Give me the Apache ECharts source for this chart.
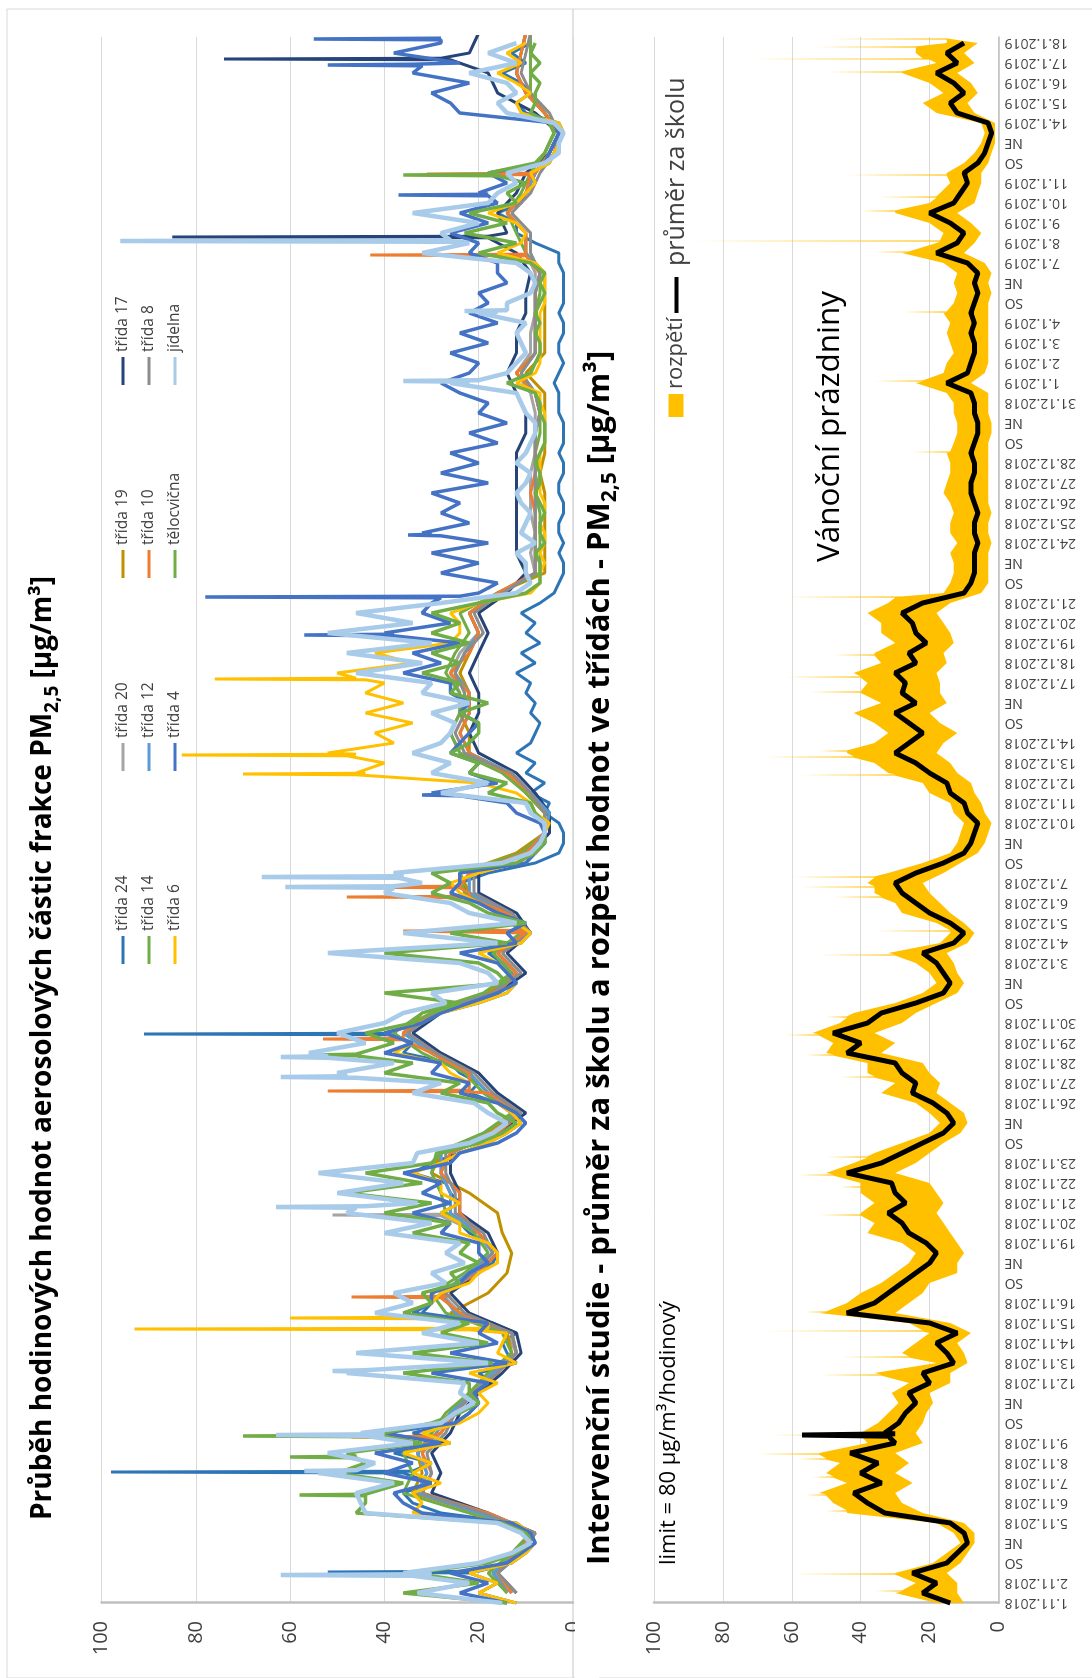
<!DOCTYPE html>
<html>
<head>
<meta charset="utf-8">
<script src="https://cdn.jsdelivr.net/npm/echarts@6/dist/echarts.min.js"></script>
<style>
html,body{margin:0;padding:0;background:#fff;}
body{width:1092px;height:1678px;overflow:hidden;position:relative;}
#chart{position:absolute;left:0;top:0;width:1678px;height:1092px;transform-origin:0 0;transform:translateY(1678px) rotate(-90deg);background:#fff;}
</style>
</head>
<body>
<div id="chart"></div>
<script>
// ---- tick labels (one per day, 1.11.2018 .. 18.1.2019) ----
const dayLabels = ['1.11.2018','2.11.2018','SO','NE','5.11.2018','6.11.2018','7.11.2018','8.11.2018','9.11.2018','SO','NE','12.11.2018','13.11.2018','14.11.2018','15.11.2018','16.11.2018','SO','NE','19.11.2018','20.11.2018','21.11.2018','22.11.2018','23.11.2018','SO','NE','26.11.2018','27.11.2018','28.11.2018','29.11.2018','30.11.2018','SO','NE','3.12.2018','4.12.2018','5.12.2018','6.12.2018','7.12.2018','SO','NE','10.12.2018','11.12.2018','12.12.2018','13.12.2018','14.12.2018','SO','NE','17.12.2018','18.12.2018','19.12.2018','20.12.2018','21.12.2018','SO','NE','24.12.2018','25.12.2018','26.12.2018','27.12.2018','28.12.2018','SO','NE','31.12.2018','1.1.2019','2.1.2019','3.1.2019','4.1.2019','SO','NE','7.1.2019','8.1.2019','9.1.2019','10.1.2019','11.1.2019','SO','NE','14.1.2019','15.1.2019','16.1.2019','17.1.2019','18.1.2019'];

// ---- right panel: school average and range (half-day samples) ----
const avg = [14,22,18,25,15,12,9,10,14,33,38,42,34,40,35,43,30,33,29,27,
24,26,20,22,13,15,18,12,20,44,36,32,28,24,20,18,21,26,28,32,
27,30,31,44,34,28,22,16,13,15,19,25,24,28,30,44,40,48,38,34,
24,16,14,16,18,22,13,10,14,20,24,28,30,24,16,10,8,7,6,9,
10,14,15,20,24,30,26,22,26,30,24,28,27,30,24,26,21,24,25,28,
22,10,8,7,7,7,6,7,7,6,7,8,8,7,7,8,7,6,6,7,
7,8,15,9,8,7,7,8,7,8,7,6,7,6,9,18,12,10,14,20,
13,11,9,10,6,4,3,2,3,12,14,10,13,18,12,15,10];
const avgSpikes = [[8.4,32,57,30]];
const rangeLo = [10,12,12,15,11,9,7,7,10,22,28,30,25,30,26,30,22,24,22,21,
19,20,14,14,9,10,12,8,14,30,26,22,20,12,12,10,12,14,16,18,
16,18,20,30,24,20,16,11,9,10,14,18,17,20,22,34,30,36,28,24,
18,12,10,12,13,15,9,7,10,14,17,20,22,16,11,6,4,3,2,4,
5,7,8,12,14,18,16,12,17,20,15,17,17,18,15,16,13,14,16,18,
14,5,3,3,3,3,2,3,3,2,3,3,3,3,3,3,3,2,2,3,
3,3,8,4,3,3,3,3,3,3,3,2,3,2,4,10,7,5,8,12,
7,6,5,5,3,2,1,1,1,7,9,6,8,12,7,10,6];
const rangeHi = [18,30,24,30,19,15,11,13,18,44,48,52,44,50,46,52,38,40,35,32,
29,31,26,36,18,28,24,20,26,52,44,40,34,30,26,24,28,38,36,40,
36,40,40,50,42,36,28,20,17,20,24,34,30,38,38,50,48,54,46,42,
30,22,18,20,24,32,17,14,18,28,30,36,38,32,22,14,12,11,10,13,
14,20,22,32,36,44,36,32,36,42,34,40,38,42,34,36,30,34,34,38,
32,16,14,13,13,14,12,14,14,13,14,16,15,14,14,15,13,12,12,13,
13,15,24,16,15,13,14,15,14,16,13,12,13,12,16,28,18,16,20,30,
20,17,14,15,10,7,5,4,5,18,22,16,20,28,18,24,15];
const rangeHiSpikes = [[0.6,28,36,28],[1.45,30,60,30],[4.6,44,50,44],[5.4,50,56,50],[6.3,48,54,48],[7.2,50,58,50],[7.45,52,70,52],[8.4,40,66,40],
[11.4,34,52,34],[12.3,26,46,26],[13.6,22,68,22],[14.55,50,56,50],[19.4,40,52,40],[20.8,40,46,40],[21.4,48,58,48],[22.3,38,50,38],
[26.3,36,46,36],[27.4,48,56,48],[28.4,52,62,52],[29.3,44,50,44],[32.4,30,52,30],[33.6,14,36,14],[35.3,34,48,34],[35.8,36,58,36],[36.3,36,60,36],
[41.4,30,58,30],[42.3,42,68,42],[42.6,44,52,44],[45.55,40,55,40],[46.3,40,62,40],[47.4,36,48,36],[50.3,30,62,28],
[57.55,14,25,14],[61.1,22,36,22],[64.55,15,28,15],[67.55,26,36,26],[68.1,17,90,17],[69.6,30,40,30],[70.3,18,35,18],[71.4,15,45,15],
[76.55,28,50,28],[77.2,20,72,22],[77.8,24,54,24],[78.2,15,50,15]];

// ---- left panel: rooms (half-day samples) ----
const jidelna = [15,33,22,36,20,13,9,11,16,44,45,46,38,54,42,52,34,45,28,25,
21,24,23,48,18,46,20,32,24,42,34,38,27,30,23,27,24,40,30,48,
33,50,36,54,34,33,22,17,14,18,21,34,28,50,38,56,44,50,40,36,
27,30,16,18,24,52,16,36,12,22,26,40,32,38,15,9,7,6,6,9,
10,28,18,30,26,34,28,26,25,30,22,32,30,46,32,48,30,52,34,46,
28,12,9,10,10,12,8,11,10,9,11,12,10,9,12,10,9,8,8,10,
11,12,26,14,12,10,11,12,10,20,14,9,8,9,12,32,22,28,20,34,
18,16,12,14,6,3,3,2,4,14,16,12,14,22,12,18,12];
const jidelnaSpikes = [[1.4,34,62,30],[6.6,48,57,46],[8.4,44,63,40],[11.6,44,51,44],[19.8,46,63,44],[26.3,46,62,48],[27.3,52,62,52],[35.8,38,61,38],[36.3,37,66,36],[61.1,22,36,20],[64.6,16,23,14],[68.1,24,96,26]];
const telocvicna = [14,36,20,34,18,12,9,10,15,46,44,44,36,50,44,48,32,40,30,24,
20,22,22,36,17,34,18,28,22,36,30,32,24,26,20,24,22,34,26,40,
30,48,32,44,30,28,20,15,12,16,18,28,24,40,34,46,38,44,34,30,
24,40,14,16,20,40,14,26,10,18,22,30,26,30,12,8,6,6,6,8,
9,18,14,22,20,26,22,20,20,24,18,26,24,32,24,30,22,30,24,30,
20,10,7,7,7,8,6,7,7,6,7,8,7,7,8,7,6,6,6,7,
7,8,14,9,8,7,7,8,7,8,7,6,7,6,9,20,12,23,14,22,
12,14,10,18,8,6,5,4,5,9,8,8,7,9,7,9,8];
const telocvicnaSpikes = [[5.4,44,58,44],[7.3,46,60,46],[8.35,40,70,40],[27.4,46,56,46],[71.4,16,36,16]];
const trida4 = [14,24,18,26,14,11,8,9,13,32,36,38,30,40,34,42,28,40,25,22,
20,21,18,30,14,26,16,20,18,34,30,30,24,22,18,20,20,28,26,34,
26,32,28,36,26,24,16,12,10,12,16,24,22,30,28,40,34,40,32,28,
22,16,12,14,16,24,12,14,10,16,20,26,24,24,10,8,6,6,7,12,
14,30,16,22,20,26,24,22,20,24,22,26,26,36,28,34,24,40,26,32,
30,20,16,28,20,30,18,32,22,28,24,30,18,28,20,26,16,22,14,20,
18,24,28,22,20,26,18,24,16,22,18,20,14,16,16,22,20,26,18,24,
16,20,14,18,6,5,4,3,4,24,26,30,22,34,24,38,28];
const trida4Spikes = [[40.4,24,32,26],[48.4,38,57,38],[50.3,28,78,24],[53.4,28,35,30],[70.4,18,37,18],[76.9,32,52,34],[78.2,28,55,28]];
const trida24 = [12,20,16,22,13,10,8,9,12,28,34,36,30,36,30,38,26,34,25,22,
20,22,17,20,12,14,15,12,17,32,30,28,24,20,17,16,18,22,24,28,
24,26,27,34,30,24,18,14,11,13,16,22,20,24,26,36,34,40,32,28,
20,14,12,13,15,18,11,9,12,16,20,22,24,18,8,3,2,2,3,6,
5,9,6,10,8,12,9,8,7,9,8,10,9,12,8,11,7,10,8,11,
7,4,3,2,2,3,2,3,3,2,2,3,3,2,2,3,2,2,2,3,
3,3,4,3,2,3,3,2,2,3,2,2,2,2,3,3,8,12,12,16,
11,10,8,9,5,4,3,2,3,10,12,9,11,15,10,13,9];
const trida24Spikes = [[1.55,22,52,20],[6.55,36,98,34],[28.45,38,91,40]];
const trida6 = [12,20,16,22,13,10,8,9,12,34,32,34,28,34,30,36,26,32,24,20,
18,20,16,22,12,16,15,14,18,36,30,28,22,20,16,16,18,24,24,28,
24,28,28,34,28,24,18,14,11,13,16,24,22,26,28,38,34,40,32,28,
20,14,12,14,16,20,11,9,12,16,20,24,26,20,12,8,6,6,5,8,
9,12,20,46,40,52,38,42,34,44,36,44,40,50,34,42,26,24,24,26,
20,9,7,7,6,7,6,6,7,6,6,7,7,7,7,7,6,6,6,6,
7,7,12,8,7,7,7,7,7,7,6,6,6,6,8,16,11,10,12,18,
12,10,8,9,5,4,3,2,3,11,12,9,12,16,11,14,10];
const trida6Spikes = [[13.7,22,93,18],[14.25,30,60,32],[41.45,46,70,44],[42.4,48,83,46],[46.2,44,76,46]];

// ---- left panel: rooms (daily samples) ----
const trida19 = [14,17,12,9,20,34,32,33,30,26,22,18,13,14,26,18,14,13,15,16,22,30,28,18,12,18,22,30,36,32,18,12,16,10,14,22,24,12,6,6,10,14,22,22,24,22,24,22,20,22,16,6,6,6,6,6,7,6,6,6,6,10,6,6,6,6,6,10,10,14,10,8,5,3,6,10,12,11,10];
const trida10 = [13,16,12,8,18,32,30,32,28,25,21,16,12,13,24,28,20,16,20,24,24,28,26,16,11,18,22,30,36,30,16,12,16,10,14,22,22,10,6,6,9,14,22,24,22,22,26,22,20,22,16,8,8,8,8,9,8,8,8,7,8,12,8,8,8,8,7,10,10,14,10,8,5,3,6,10,12,11,10];
const trida10Spikes = [[8.3,30,47,30],[15.3,28,47,26],[25.6,22,52,22],[28.2,36,53,36],[33.6,10,36,10],[35.3,22,48,22],[35.8,24,59,24],[67.4,10,43,10],[71.45,9,31,9]];
const trida20 = [13,17,12,9,20,33,31,32,28,26,22,17,12,14,24,28,22,18,20,26,26,28,28,18,12,18,22,30,36,30,18,12,16,10,14,22,22,10,6,6,9,14,24,26,24,24,26,24,20,22,16,8,9,8,9,9,9,8,8,8,9,12,9,9,8,8,8,10,10,14,10,8,5,3,6,10,12,11,10];
const trida20Spikes = [[19.4,28,51,28]];
const trida8 = [12,16,11,8,19,32,30,31,27,25,21,16,12,13,23,27,21,17,19,25,25,27,27,17,11,17,21,29,35,29,17,11,15,9,13,21,21,9,6,6,9,13,23,25,23,23,25,23,19,21,15,8,8,8,8,8,8,8,8,7,8,11,8,8,8,8,7,9,9,13,9,7,4,3,5,9,11,10,9];
const trida14 = [14,18,13,9,22,36,34,36,30,27,22,18,13,15,27,30,23,18,21,27,28,30,29,19,13,19,23,32,38,32,19,13,17,11,15,23,24,11,6,6,10,15,24,26,24,24,27,25,22,24,16,7,7,7,7,8,7,8,7,7,8,12,8,8,8,7,7,10,12,14,11,9,6,4,6,9,9,9,9];
const trida12 = [13,17,12,8,20,33,31,33,29,26,21,17,12,13,25,28,22,17,20,26,26,28,28,17,12,18,22,30,36,30,17,12,16,10,14,22,22,10,6,5,9,13,22,24,22,22,25,23,20,22,15,8,8,8,8,8,8,8,8,7,8,11,8,8,8,8,7,10,10,14,10,8,5,3,6,10,12,11,10];
const trida17 = [12,16,11,8,18,30,28,30,26,24,20,15,11,12,22,26,20,16,18,24,24,26,26,16,10,16,20,28,34,28,16,10,14,9,12,20,20,9,5,5,8,12,20,22,20,20,22,20,18,20,14,10,12,12,12,12,12,12,10,10,12,14,12,12,10,10,9,12,14,16,12,10,5,3,8,16,18,22,20];
const trida17Spikes = [[68.3,18,85,18],[77.2,26,74,28]];

// ---- build [time(days), value] pairs for the library ----
function pts(arr, step, offset, spikes, w) {
  const hw = w || 0.04;
  const out = arr.map((v, i) => [offset + i * step, v]);
  (spikes || []).forEach(s => { out.push([s[0] - hw, s[1]], [s[0], s[2]], [s[0] + hw, s[3]]); });
  out.sort((a, b) => a[0] - b[0]);
  return out;
}
const FONT = 'Open Sans';
const rooms = [
  ['třída 24', '#2E75B6', pts(trida24, 0.5, 0, trida24Spikes), 3],
  ['třída 20', '#A5A5A5', pts(trida20, 1, 0.5, trida20Spikes), 3],
  ['třída 19', '#BF9000', pts(trida19, 1, 0.5), 3],
  ['třída 17', '#264478', pts(trida17, 1, 0.5, trida17Spikes), 3],
  ['třída 14', '#70AD47', pts(trida14, 1, 0.5), 3],
  ['třída 12', '#5B9BD5', pts(trida12, 1, 0.5), 3],
  ['třída 10', '#ED7D31', pts(trida10, 1, 0.5, trida10Spikes), 3],
  ['třída 8', '#8C8C8C', pts(trida8, 1, 0.5), 3],
  ['třída 6', '#FFC000', pts(trida6, 0.5, 0, trida6Spikes), 3],
  ['třída 4', '#4472C4', pts(trida4, 0.5, 0, trida4Spikes), 3.5],
  ['tělocvična', '#70AD47', pts(telocvicna, 0.5, 0, telocvicnaSpikes), 3.5],
  ['jídelna', '#A9CBEA', pts(jidelna, 0.5, 0, jidelnaSpikes), 4.5]
];
const hiPts = pts(rangeHi, 0.5, 0, rangeHiSpikes, 0.03);
const loPts = pts(rangeLo, 0.5, 0);

const chart = echarts.init(document.getElementById('chart'), null, {renderer: 'canvas', width: 1678, height: 1092});
const series = rooms.map(r => ({
  name: r[0], type: 'line', xAxisIndex: 0, yAxisIndex: 0, data: r[2],
  symbol: 'none', showSymbol: false, color: r[1],
  lineStyle: {color: r[1], width: r[3]}, emphasis: {disabled: true}
}));
series.push({
  name: 'rozpětí', type: 'custom', xAxisIndex: 1, yAxisIndex: 1, data: [[0, 0]],
  itemStyle: {color: '#FFC000'}, silent: true,
  renderItem: function (params, api) {
    const up = hiPts.map(p => api.coord(p));
    const dn = loPts.map(p => api.coord(p)).reverse();
    return {type: 'polygon', shape: {points: up.concat(dn)}, style: {fill: '#FFC000'}};
  }
});
series.push({
  name: 'průměr za školu', type: 'line', xAxisIndex: 1, yAxisIndex: 1,
  data: pts(avg, 0.5, 0, avgSpikes, 0.06), symbol: 'none', color: '#000',
  lineStyle: {color: '#000', width: 5}, z: 5, emphasis: {disabled: true}
});

const valAxis = (gi) => ({
  gridIndex: gi, type: 'value', min: 0, max: 100, interval: 20,
  axisLine: {show: true, lineStyle: {color: '#BFBFBF', width: 2.5}},
  axisTick: {show: false},
  axisLabel: {fontSize: 20, color: '#404040', margin: 18, fontFamily: FONT},
  splitLine: {show: true, lineStyle: {color: '#D9D9D9', width: 1}}
});

chart.setOption({
  animation: false,
  backgroundColor: '#fff',
  grid: [
    {left: 75, width: 1566, top: 101.5, height: 471.5},
    {left: 75, width: 1566, top: 654, height: 344.5}
  ],
  xAxis: [
    {gridIndex: 0, type: 'value', min: 0, max: 78.3, interval: 1, show: false},
    {gridIndex: 1, type: 'value', min: 0, max: 78.3, interval: 1,
      axisLine: {show: true, lineStyle: {color: '#BFBFBF', width: 1.5}},
      axisTick: {show: false}, splitLine: {show: false},
      axisLabel: {rotate: 90, fontSize: 14, color: '#404040', margin: 6, fontFamily: FONT,
        formatter: v => (Math.abs(v - Math.round(v)) < 1e-6 && dayLabels[Math.round(v)]) ? dayLabels[Math.round(v)] : ''}}
  ],
  yAxis: [valAxis(0), valAxis(1)],
  legend: [
    {data: rooms.map(r => r[0]), left: 709, top: 110, width: 800, orient: 'horizontal',
      icon: 'rect', itemWidth: 28, itemHeight: 3, itemGap: 10, selectedMode: false,
      textStyle: {fontSize: 15.5, width: 150, lineHeight: 15, color: '#404040', fontFamily: FONT}},
    {data: [{name: 'rozpětí', icon: 'rect'}], left: 1256, top: 660, itemWidth: 23, itemHeight: 15,
      selectedMode: false, textStyle: {fontSize: 22, color: '#404040', fontFamily: FONT}},
    {data: [{name: 'průměr za školu', icon: 'rect'}], left: 1360, top: 659, itemWidth: 36, itemHeight: 4,
      selectedMode: false, textStyle: {fontSize: 25, color: '#404040', fontFamily: FONT, padding: [0, 0, 0, 6]}}
  ],
  graphic: [
    {type: 'rect', z: -10, silent: true, shape: {x: 0, y: 7, width: 1669, height: 566}, style: {fill: 'none', stroke: '#D9D9D9', lineWidth: 1}},
    {type: 'rect', z: -10, silent: true, shape: {x: 0, y: 573, width: 1669, height: 540}, style: {fill: 'none', stroke: '#D9D9D9', lineWidth: 1}},
    {type: 'rect', z: 100, silent: true, shape: {x: 0, y: 575, width: 73, height: 24}, style: {fill: '#fff'}},
    {type: 'text', z: 100, x: 158, y: 43, style: {
      text: '{b|Průběh hodinových hodnot aerosolových částic frakce PM}{s|2,5}{b| [µg/m³]}',
      verticalAlign: 'middle', align: 'left',
      rich: {b: {fontSize: 28, fontWeight: 'bold', fontFamily: FONT, fill: '#000', lineHeight: 38},
             s: {fontSize: 19, fontWeight: 'bold', fontFamily: FONT, fill: '#000', lineHeight: 19, verticalAlign: 'bottom'}}}},
    {type: 'text', z: 100, x: 113, y: 600, style: {
      text: '{b|Intervenční studie - průměr za školu a rozpětí hodnot ve třídách - PM}{s|2,5}{b| [µg/m³]}',
      verticalAlign: 'middle', align: 'left',
      rich: {b: {fontSize: 31, fontWeight: 'bold', fontFamily: FONT, fill: '#000', lineHeight: 42},
             s: {fontSize: 21, fontWeight: 'bold', fontFamily: FONT, fill: '#000', lineHeight: 21, verticalAlign: 'bottom'}}}},
    {type: 'text', z: 100, x: 113, y: 669, style: {text: 'limit = 80 µg/m³/hodinový', fontSize: 22, fontFamily: FONT, fill: '#000', verticalAlign: 'middle', align: 'left'}},
    {type: 'text', z: 100, x: 1116, y: 830, style: {text: 'Vánoční prázdniny', fontSize: 31.5, fontFamily: FONT, fill: '#000', verticalAlign: 'middle', align: 'left'}}
  ],
  series: series
});
</script>
</body>
</html>
